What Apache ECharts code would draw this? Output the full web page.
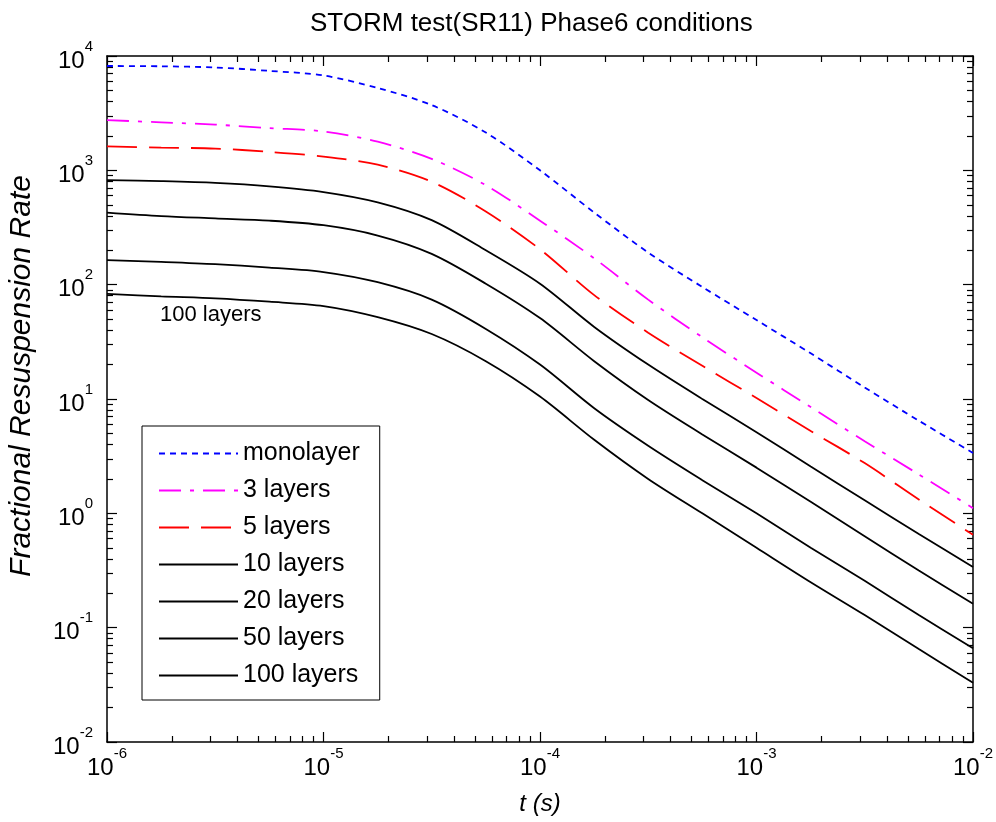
<!DOCTYPE html>
<html lang="en">
<head>
<meta charset="UTF-8">
<title>STORM test(SR11) Phase6 conditions</title>
<script src="https://cdn.jsdelivr.net/npm/echarts@6.0.0/dist/echarts.min.js"></script>
<style>
    html, body { margin: 0; padding: 0; background: #fff; }
    #container { width: 996px; height: 822px; }
</style>
</head>
<body>
<div id="container"></div>
<script>
    // time points (s), quarter-decade steps
    var times = [1e-6, 1.78e-6, 3.16e-6, 5.62e-6, 1e-5, 1.78e-5, 3.16e-5, 5.62e-5, 1e-4,
                 1.78e-4, 3.16e-4, 5.62e-4, 1e-3, 1.78e-3, 3.16e-3, 5.62e-3, 1e-2];

    // fractional resuspension rate for each layer count
    var monolayer = [8180, 8130, 7940, 7410, 6760, 5250, 3720, 2140, 1000, 427, 191, 95.5, 49, 25.1, 12.6, 6.46, 3.37];
    var layers3   = [2750, 2630, 2510, 2340, 2190, 1780, 1260, 741, 363, 170, 74, 34.7, 17, 8.5, 4.27, 2.19, 1.11];
    var layers5   = [1620, 1580, 1550, 1450, 1320, 1120, 794, 437, 204, 81, 38, 19.5, 10.2, 5.25, 2.75, 1.32, 0.65];
    var layers10  = [822, 804, 776, 724, 646, 525, 367, 200, 102, 42.7, 20, 10, 5.13, 2.57, 1.30, 0.66, 0.339];
    var layers20  = [427, 398, 380, 363, 331, 269, 186, 102, 51, 21.4, 9.8, 4.9, 2.51, 1.26, 0.63, 0.316, 0.162];
    var layers50  = [164, 158, 151, 141, 129, 105, 74, 41, 20, 8.3, 3.9, 1.95, 1.0, 0.50, 0.257, 0.129, 0.066];
    var layers100 = [83, 79, 76, 71, 65, 52, 37, 21.4, 10.5, 4.4, 2.0, 1.0, 0.50, 0.25, 0.129, 0.065, 0.033];

    var seriesNames = ['monolayer', '3 layers', '5 layers', '10 layers', '20 layers', '50 layers', '100 layers'];

    // axis tick values
    var xMajor = [1e-6, 1e-5, 1e-4, 1e-3, 1e-2];
    var yMajor = [1e-2, 1e-1, 1, 10, 100, 1000, 10000];

    function minorOf(major) {
        var out = [];
        for (var i = 0; i < major.length - 1; i++) {
            for (var k = 2; k <= 9; k++) out.push(major[i] * k);
        }
        return out;
    }
    var xMinor = minorOf(xMajor);
    var yMinor = minorOf(yMajor);

    function expLabel(v) {
        var e = Math.round(Math.log10(v));
        return '{b|10}{s|' + e + '}';
    }
    var labelRich = {
        b: { fontSize: 24, fontFamily: 'Liberation Sans', color: '#000', lineHeight: 34, verticalAlign: 'bottom' },
        s: { fontSize: 15, fontFamily: 'Liberation Sans', color: '#000', verticalAlign: 'top' }
    };

    function makeAxis(kind, pos, ticks, len, withLabel, withLine, min, max) {
        var ax = {
            type: 'log',
            logBase: 10,
            position: pos,
            min: min,
            max: max,
            axisLine: { show: withLine, onZero: false, lineStyle: { color: '#000', width: 1.5 } },
            axisTick: { show: true, inside: true, length: len, customValues: ticks, lineStyle: { color: '#000', width: 1.2 } },
            axisLabel: { show: false },
            splitLine: { show: false },
            minorTick: { show: false },
            minorSplitLine: { show: false }
        };
        if (withLabel) {
            ax.axisLabel = {
                show: true,
                customValues: ticks,
                formatter: expLabel,
                rich: labelRich,
                margin: kind === 'x' ? 4 : 14,
                hideOverlap: false,
                showMinLabel: true,
                showMaxLabel: true
            };
        }
        return ax;
    }

    var xAxes = [
        makeAxis('x', 'bottom', xMajor, 10, true, true, 1e-6, 1e-2),
        makeAxis('x', 'bottom', xMinor, 6, false, false, 1e-6, 1e-2),
        makeAxis('x', 'top', xMajor, 10, false, true, 1e-6, 1e-2),
        makeAxis('x', 'top', xMinor, 6, false, false, 1e-6, 1e-2)
    ];
    xAxes[0].name = 't (s)';
    xAxes[0].nameLocation = 'middle';
    xAxes[0].nameGap = 50;
    xAxes[0].nameTextStyle = { fontSize: 24, fontStyle: 'italic', fontFamily: 'Liberation Sans', color: '#000' };

    var yAxes = [
        makeAxis('y', 'left', yMajor, 10, true, true, 1e-2, 1e4),
        makeAxis('y', 'left', yMinor, 6, false, false, 1e-2, 1e4),
        makeAxis('y', 'right', yMajor, 10, false, true, 1e-2, 1e4),
        makeAxis('y', 'right', yMinor, 6, false, false, 1e-2, 1e4)
    ];

    var styles = [
        { color: '#0000ff', type: [6, 5] },
        { color: '#ff00ff', type: [22, 9, 4, 9] },
        { color: '#ff0000', type: [30, 12] },
        { color: '#000000', type: 'solid' },
        { color: '#000000', type: 'solid' },
        { color: '#000000', type: 'solid' },
        { color: '#000000', type: 'solid' }
    ];
    var values = [monolayer, layers3, layers5, layers10, layers20, layers50, layers100];

    var series = values.map(function (vals, i) {
        return {
            name: seriesNames[i],
            type: 'line',
            xAxisIndex: 0,
            yAxisIndex: 0,
            smooth: 0.3,
            symbol: 'none',
            color: styles[i].color,
            lineStyle: { color: styles[i].color, width: 1.8, type: styles[i].type },
            data: times.map(function (t, j) { return [t, vals[j]]; })
        };
    });

    var chart = echarts.init(document.getElementById('container'), null, { renderer: 'canvas' });
    var option = {
        animation: false,
        backgroundColor: '#fff',
        title: {
            text: 'STORM test(SR11) Phase6 conditions',
            left: 305,
            top: 6,
            textStyle: { fontSize: 26, fontWeight: 'normal', fontFamily: 'Liberation Sans', color: '#000' }
        },
        grid: { left: 107, right: 23, top: 56, bottom: 80, outerBoundsMode: 'none' },
        legend: {
            data: seriesNames,
            orient: 'vertical',
            left: 142,
            top: 426,
            itemWidth: 79,
            itemHeight: 26,
            itemGap: 12,
            padding: [15, 20, 12, 16],
            borderColor: '#000',
            borderWidth: 1,
            backgroundColor: '#fff',
            selectedMode: false,
            itemStyle: { opacity: 0 },
            textStyle: { fontSize: 25, fontFamily: 'Liberation Sans', color: '#000' }
        },
        graphic: [{
            type: 'text',
            left: 160,
            top: 304,
            style: { text: '100 layers', fontSize: 22, fontFamily: 'Liberation Sans', fill: '#000' }
        }, {
            type: 'text',
            x: 22,
            y: 376,
            rotation: Math.PI / 2,
            style: {
                text: 'Fractional Resuspension Rate',
                fontSize: 30,
                fontStyle: 'italic',
                fontFamily: 'Liberation Sans',
                fill: '#000',
                align: 'center',
                verticalAlign: 'middle'
            }
        }],
        xAxis: xAxes,
        yAxis: yAxes,
        series: series
    };
    chart.setOption(option);
</script>
</body>
</html>
